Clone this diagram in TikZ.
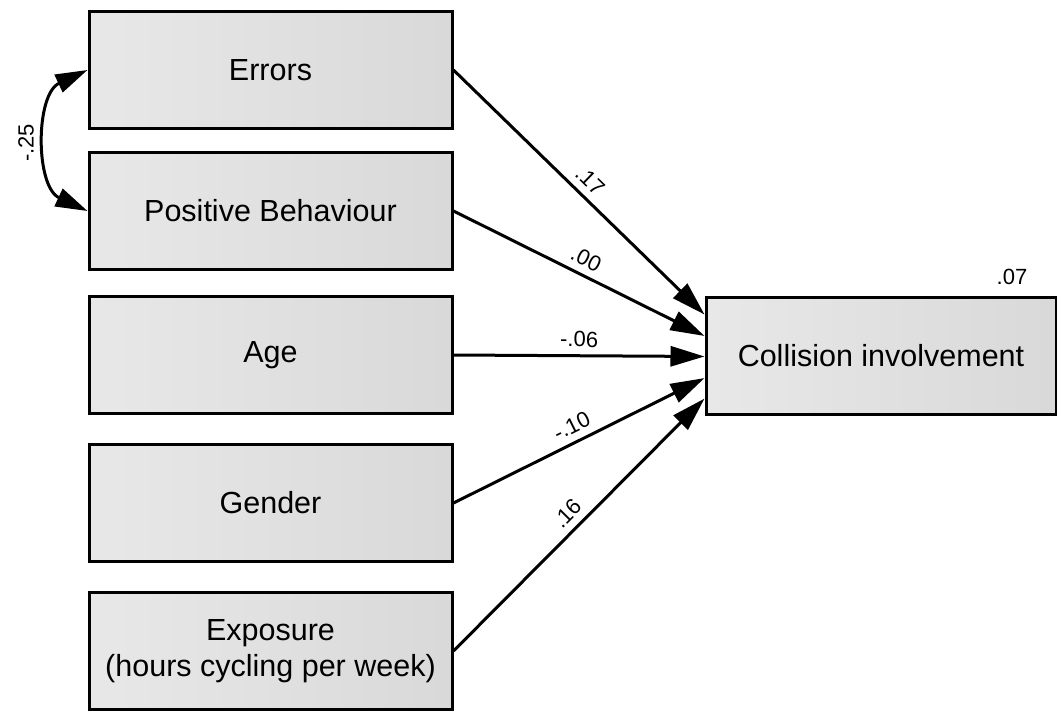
\documentclass[tikz,border=0pt]{standalone}
\usepackage{fontspec}
\setmainfont{Liberation Sans}
\usetikzlibrary{arrows.meta,calc}

\tikzset{
  var/.style={draw=black, line width=3pt, left color=black!9, right color=black!15,
    minimum width=363pt, minimum height=117pt, inner sep=0pt, align=center,
    font=\fontsize{30.5}{36}\selectfont},
  effect/.style={line width=3pt, -{Triangle[length=34pt,width=20pt]}},
  coef/.style={font=\fontsize{22}{26}\selectfont, sloped, above, inner sep=7pt, pos=0.5}
}

\begin{document}
\begin{tikzpicture}[x=1pt,y=-1pt]
\useasboundingbox (0,0) rectangle (1057,712);

% predictors
\node[var] (err) at (270.5,70) {Errors};
\node[var] (pos) at (270.5,211) {Positive Behaviour};
\node[var] (age) at (270.5,355) {Age};
\node[var] (gen) at (270.5,503) {Gender};
\node[var] (exp) at (270.5,651) {Exposure\\(hours cycling per week)};

% outcome
\node[var, minimum width=350pt] (col) at (881,356) {Collision involvement};
\node[font=\fontsize{22}{26}\selectfont] (r2) at (1012,277) {.07};

% paths
\draw[effect] (err.east) -- ($(col.north west)!0.154!(col.south west)$) node[coef] (c1) {.17};
\draw[effect] (pos.east) -- ($(col.north west)!0.333!(col.south west)$) node[coef] (c2) {.00};
\draw[effect] (age.east) -- ($(col.north west)!0.504!(col.south west)$) node[coef] (c3) {-.06};
\draw[effect] (gen.east) -- ($(col.north west)!0.684!(col.south west)$) node[coef] (c4) {-.10};
\draw[effect] (exp.east) -- ($(col.north west)!0.855!(col.south west)$) node[coef] (c5) {.16};

% covariance
\draw[line width=3pt, {Triangle[length=32pt,width=19pt]}-{Triangle[length=32pt,width=19pt]}]
  (err.west) to[bend right=65, looseness=1.05] (pos.west);
\node[font=\fontsize{22}{26}\selectfont, rotate=90] (cov) at (26,143) {-.25};
\end{tikzpicture}
\end{document}
